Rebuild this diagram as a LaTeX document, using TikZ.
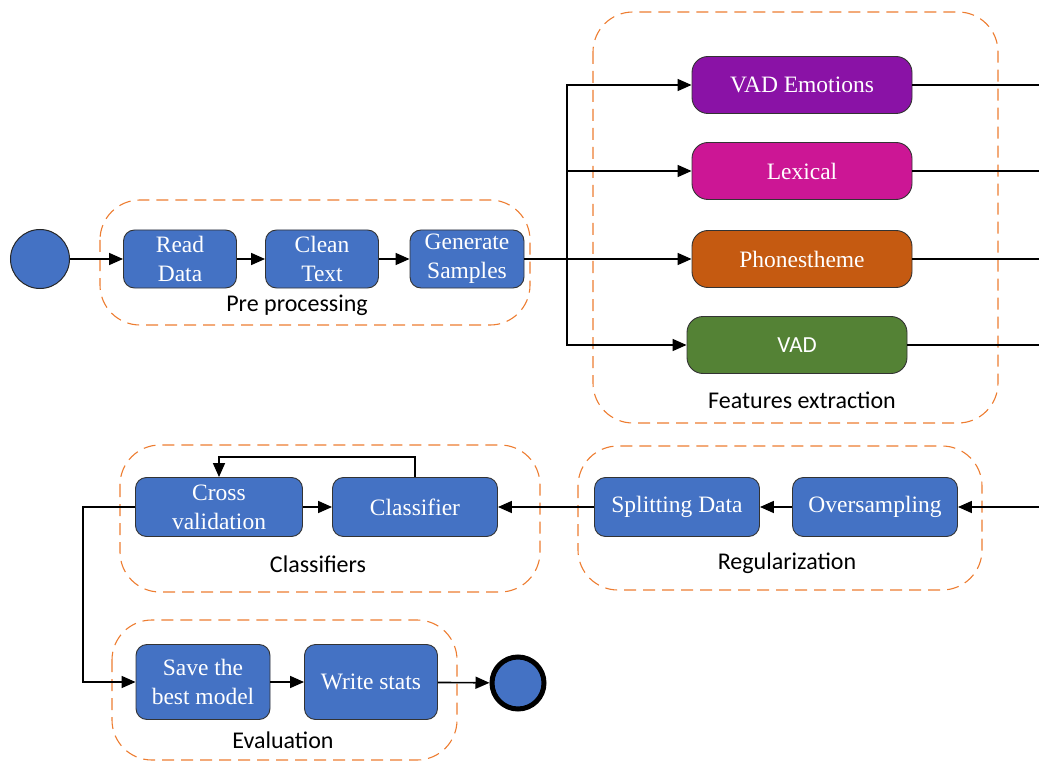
\documentclass[tikz,border=0pt]{standalone}
\usepackage{fontspec}
\newfontfamily\boxfont{Liberation Serif}
\newfontfamily\labelfont{Carlito}
\usetikzlibrary{arrows.meta}
\definecolor{stepblue}{HTML}{4472C4}
\definecolor{groupedge}{HTML}{ED7D31}
\definecolor{vadpurple}{HTML}{8A12A6}
\definecolor{lexmagenta}{HTML}{CC1695}
\definecolor{phonorange}{HTML}{C55A11}
\definecolor{vadgreen}{HTML}{548235}
\tikzset{
  stepbox/.style={draw=black!80, line width=0.9pt, rounded corners=11pt, fill=stepblue,
    text=white, align=center, inner sep=0pt,
    font=\boxfont\fontsize{23.5}{29}\selectfont},
  featbox/.style={stepbox, minimum width=220, minimum height=57, rounded corners=16pt},
  groupbox/.style={draw=groupedge, line width=1.1pt, dash pattern=on 12pt off 7pt,
    rounded corners=40pt, inner sep=0pt},
  grouplabel/.style={font=\labelfont\fontsize{24}{27}\selectfont, text=black},
  flow/.style={line width=1.6pt, -{Triangle[length=14pt,width=12pt]}},
  wire/.style={line width=1.6pt},
}
\begin{document}
\begin{tikzpicture}[x=1pt,y=-1pt]
\useasboundingbox (0,0) rectangle (1039,762);

% ---- group frames ----
\draw[groupbox] (100,200) rectangle (530,325);
\node[grouplabel] (preL) at (297,305) {Pre processing};
\draw[groupbox] (593,12) rectangle (998,423);
\node[grouplabel] (featL) at (802,400) {Features extraction};
\draw[groupbox] (578,446) rectangle (982,590);
\node[grouplabel] (regL) at (787,563) {Regularization};
\draw[groupbox] (120,445) rectangle (540,592);
\node[grouplabel] (clsL) at (318,564) {Classifiers};
\draw[groupbox] (112,620) rectangle (457,760);
\node[grouplabel] (evalL) at (283,740) {Evaluation};

% ---- start / end ----
\node[circle, draw=black!85, line width=1pt, fill=stepblue, minimum size=59, inner sep=0pt] (start) at (40,259) {};
\node[circle, draw=black, line width=5pt, fill=stepblue, minimum size=52, inner sep=0pt] (stop) at (518,683) {};

% ---- pre processing ----
\node[stepbox, minimum width=113, minimum height=58] (read) at (180,259) {Read\\Data};
\node[stepbox, minimum width=113, minimum height=58] (clean) at (322,259) {Clean\\Text};
\node[stepbox, minimum width=114, minimum height=58] (gen) at (467,259) {Generate\\Samples};

% ---- feature extraction ----
\node[featbox, fill=vadpurple] (emo) at (802,85) {VAD Emotions};
\node[featbox, fill=lexmagenta] (lex) at (802,171) {Lexical};
\node[featbox, fill=phonorange] (pho) at (802,259) {Phonestheme};
\node[featbox, fill=vadgreen, font=\labelfont\fontsize{23}{26}\selectfont] (vad) at (797,345) {VAD};

% ---- regularization ----
\node[stepbox, minimum width=165, minimum height=59] (over) at (875,507) {Oversampling};
\node[stepbox, minimum width=165, minimum height=59] (split) at (677,507) {Splitting Data};

% ---- classifiers ----
\node[stepbox, minimum width=167, minimum height=59] (cross) at (219,507) {Cross\\validation};
\node[stepbox, minimum width=165, minimum height=59] (clf) at (415,507) {Classifier};

% ---- evaluation ----
\node[stepbox, minimum width=134, minimum height=75] (save) at (203,682) {Save the\\best model};
\node[stepbox, minimum width=133, minimum height=75] (stats) at (371,682) {Write stats};

% ---- free ends at the right border ----
\coordinate (fork) at (567,259);
\coordinate (emoOut) at (1039,85);
\coordinate (lexOut) at (1039,171);
\coordinate (phoOut) at (1039,259);
\coordinate (vadOut) at (1039,345);
\coordinate (regIn) at (1039,507);
\coordinate (loopTop) at (0,457);
\coordinate (dropX) at (83,0);

% ---- connectors ----
\draw[flow] (start) -- (read);
\draw[flow] (read) -- (clean);
\draw[flow] (clean) -- (gen);
\draw[wire] (gen.east) -- (fork);
\draw[flow] (fork) -- (pho.west);
\draw[flow] (fork) |- (emo.west);
\draw[flow] (fork) |- (lex.west);
\draw[flow] (fork) |- (vad.west);
\draw[wire] (emo.east) -- (emoOut);
\draw[wire] (lex.east) -- (lexOut);
\draw[wire] (pho.east) -- (phoOut);
\draw[wire] (vad.east) -- (vadOut);
\draw[flow] (regIn) -- (over.east);
\draw[flow] (over) -- (split);
\draw[flow] (split) -- (clf);
\draw[flow] (cross) -- (clf);
\draw[flow] (clf.north) -- (clf.north |- loopTop) -- (cross.north |- loopTop) -- (cross.north);
\draw[flow] (cross.west) -- (dropX |- cross.west) -- (dropX |- save.west) -- (save.west);
\draw[flow] (save) -- (stats);
\draw[flow] (stats) -- (stop);
\end{tikzpicture}
\end{document}
